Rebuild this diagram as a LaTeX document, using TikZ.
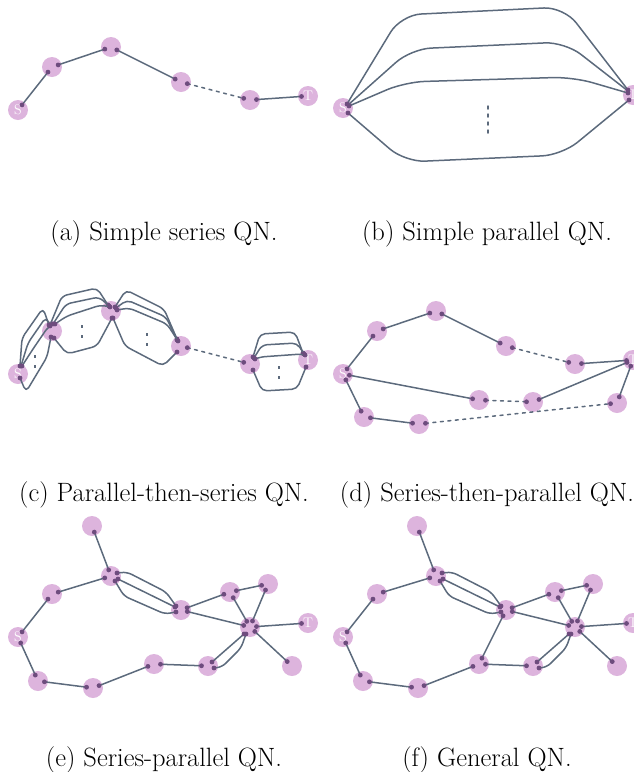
\documentclass[tikz,border=0pt]{standalone}
\usetikzlibrary{calc}
\definecolor{qpink}{RGB}{221,180,221}
\definecolor{qdotc}{RGB}{110,76,126}
\definecolor{qlinec}{RGB}{92,106,124}
\tikzset{
 qn/.style={circle, fill=qpink, minimum size=20pt, inner sep=0pt, text=white, font=\fontsize{14}{14}\selectfont},
 qline/.style={draw=qlinec, line width=1.5pt, line cap=round, line join=round},
 qdash/.style={dash pattern=on 3pt off 4.5pt},
 qvdots/.style={draw=qlinec, line width=1.5pt, dash pattern=on 3pt off 7pt},
 qdotst/.style={fill=qdotc},
 qcap/.style={font=\fontsize{26.5}{30}\selectfont, anchor=base}
}
\newcommand\qedge[3][]{%
 \draw[qline,#1] ($(#2)!6.5pt!(#3)$) -- ($(#3)!6.5pt!(#2)$);
 \fill[qdotst] ($(#2)!6.5pt!(#3)$) circle (2.4pt) ($(#3)!6.5pt!(#2)$) circle (2.4pt);}
\newcommand\bund[4]{%
 \draw[qline, rounded corners=5pt] #1 -- #2 -- #3 -- #4;
 \fill[qdotst] #1 circle (2.4pt) #4 circle (2.4pt);}
\newcommand\bstr[2]{%
 \draw[qline] #1 -- #2;
 \fill[qdotst] #1 circle (2.4pt) #2 circle (2.4pt);}
\newcommand\chainnodes[1]{%
 \node[qn] (#1S) at (18,110) {S};
 \node[qn] (#1n1) at (52,67) {};
 \node[qn] (#1n2) at (111,47) {};
 \node[qn] (#1n3) at (181,82) {};
 \node[qn] (#1n4) at (250,100) {};
 \node[qn] (#1T) at (308,96) {T};}
\newcommand\efnodes[1]{%
 \node[qn] (#1S) at (18,637) {S};
 \node[qn] (#1a1) at (52,594) {};
 \node[qn] (#1a2) at (111,576) {};
 \node[qn] (#1p) at (92,526) {};
 \node[qn] (#1b) at (181,610) {};
 \node[qn] (#1c1) at (230,592) {};
 \node[qn] (#1c2) at (268,584) {};
 \node[qn] (#1H) at (250,627) {};
 \node[qn] (#1T) at (308,623) {T};
 \node[qn] (#1d) at (292,666) {};
 \node[qn] (#1l1) at (38,681) {};
 \node[qn] (#1l2) at (93,688) {};
 \node[qn] (#1l3) at (154,664) {};
 \node[qn] (#1l4) at (208,666) {};}
\newcommand\efedges[1]{%
 \qedge{#1S}{#1a1}\qedge{#1a1}{#1a2}\qedge{#1a2}{#1p}
 \qedge{#1b}{#1c1}\qedge{#1c1}{#1c2}\qedge{#1c2}{#1H}\qedge{#1c1}{#1H}
 \qedge{#1b}{#1H}\qedge{#1H}{#1T}\qedge{#1H}{#1d}
 \qedge{#1l4}{#1l3}\qedge{#1l3}{#1l2}\qedge{#1l2}{#1l1}\qedge{#1l1}{#1S}}
\newcommand\efbundles{%
 \bund{(117,573)}{(127,572)}{(166,592)}{(176,606)}
 \bstr{(118,579)}{(175,607)}
 \bund{(115,581)}{(124,596)}{(165,614)}{(176,612)}
 \bstr{(212,662)}{(244,634)}
 \bund{(214,668)}{(222,667)}{(241,648)}{(246,634)}}
\begin{document}
\begin{tikzpicture}[x=1pt,y=-1pt]
\useasboundingbox (0,0) rectangle (634,772);
% ---------- (a) ----------
\chainnodes{a}
\qedge{aS}{an1}\qedge{an1}{an2}\qedge{an2}{an3}\qedge[qdash]{an3}{an4}\qedge{an4}{aT}
\node[qcap] (capa) at (164,240) {(a) Simple series QN.};
% ---------- (b) ----------
\node[qn] (bS) at (343,108) {S};
\node[qn] (bT) at (633,95) {T};
\draw[qline, rounded corners=20pt] (347,104) -- (401,15) -- (564,7) -- (628,90);
\draw[qline, rounded corners=20pt] (348,105) -- (411,49) -- (565,42) -- (628,91);
\draw[qline, rounded corners=20pt] (349,106) -- (405,82) -- (573,77) -- (628,93);
\draw[qline, rounded corners=20pt] (348,113) -- (405,162) -- (562,155) -- (629,100);
\fill[qdotst] (347,104) circle (2.4pt) (349,106) circle (2.4pt) (348,113) circle (2.4pt)
 (628,90) circle (2.4pt) (628,93) circle (2.4pt) (629,100) circle (2.4pt);
\draw[qline, dash pattern=on 3pt off 5pt] (488,106) -- (488,136);
\node[qcap] (capb) at (487,240) {(b) Simple parallel QN.};
% ---------- (c) ----------
\begin{scope}[shift={(0,264)}]
\chainnodes{c}
\end{scope}
\bund{(20,366)}{(22,338)}{(43,308)}{(49,325)}
\bund{(21,366)}{(28,343)}{(46,317)}{(50,325)}
\bund{(22,366)}{(33,349)}{(48,327)}{(50,326)}
\bund{(20,378)}{(26,392)}{(47,357)}{(51,337)}
\draw[qvdots] (35,355) -- (35,369);
\bund{(50,325)}{(62,296)}{(97,288)}{(108,305)}
\bund{(53,324)}{(66,304)}{(99,297)}{(109,306)}
\bund{(55,324)}{(67,316)}{(101,305)}{(110,307)}
\bund{(54,338)}{(67,354)}{(97,346)}{(112,318)}
\draw[qvdots] (82,325) -- (82,339);
\bund{(115,307)}{(126,290)}{(164,309)}{(177,339)}
\bund{(116,308)}{(127,300)}{(166,317)}{(177,340)}
\bund{(117,310)}{(129,308)}{(167,324)}{(178,341)}
\bund{(113,318)}{(125,346)}{(163,366)}{(177,352)}
\draw[qvdots] (147,333) -- (147,347);
\qedge[qdash]{cn3}{cn4}
\bund{(253,357)}{(260,334)}{(295,332)}{(303,353)}
\bund{(254,358)}{(262,345)}{(297,343)}{(304,354)}
\bund{(255,359)}{(260,357)}{(302,354)}{(305,355)}
\bund{(253,370)}{(262,391)}{(297,389)}{(306,367)}
\draw[qvdots] (279,366) -- (279,380);
\node[qcap] (capc) at (164,501) {(c) Parallel-then-series QN.};
% ---------- (d) ----------
\begin{scope}[shift={(325,264)}]
\chainnodes{d}
\end{scope}
\node[qn] (dm1) at (479,400) {};
\node[qn] (dm2) at (533,402) {};
\node[qn] (dl1) at (364,417) {};
\node[qn] (dl2) at (419,424) {};
\node[qn] (dl3) at (617,403) {};
\qedge{dS}{dn1}\qedge{dn1}{dn2}\qedge{dn2}{dn3}\qedge[qdash]{dn3}{dn4}\qedge{dn4}{dT}
\qedge{dS}{dm1}\qedge[qdash]{dm1}{dm2}\qedge{dm2}{dT}
\qedge{dS}{dl1}\qedge{dl1}{dl2}\qedge[qdash]{dl2}{dl3}\qedge{dl3}{dT}
\node[qcap] (capd) at (487,501) {(d) Series-then-parallel QN.};
% ---------- (e) ----------
\efnodes{e}
\efedges{e}
\efbundles
\node[qcap] (cape) at (164,766) {(e) Series-parallel QN.};
% ---------- (f) ----------
\begin{scope}[shift={(325,0)}]
\efnodes{f}
\efbundles
\end{scope}
\efedges{f}
\qedge{fb}{fl3}
\node[qcap] (capf) at (487,766) {(f) General QN.};
\end{tikzpicture}
\end{document}
